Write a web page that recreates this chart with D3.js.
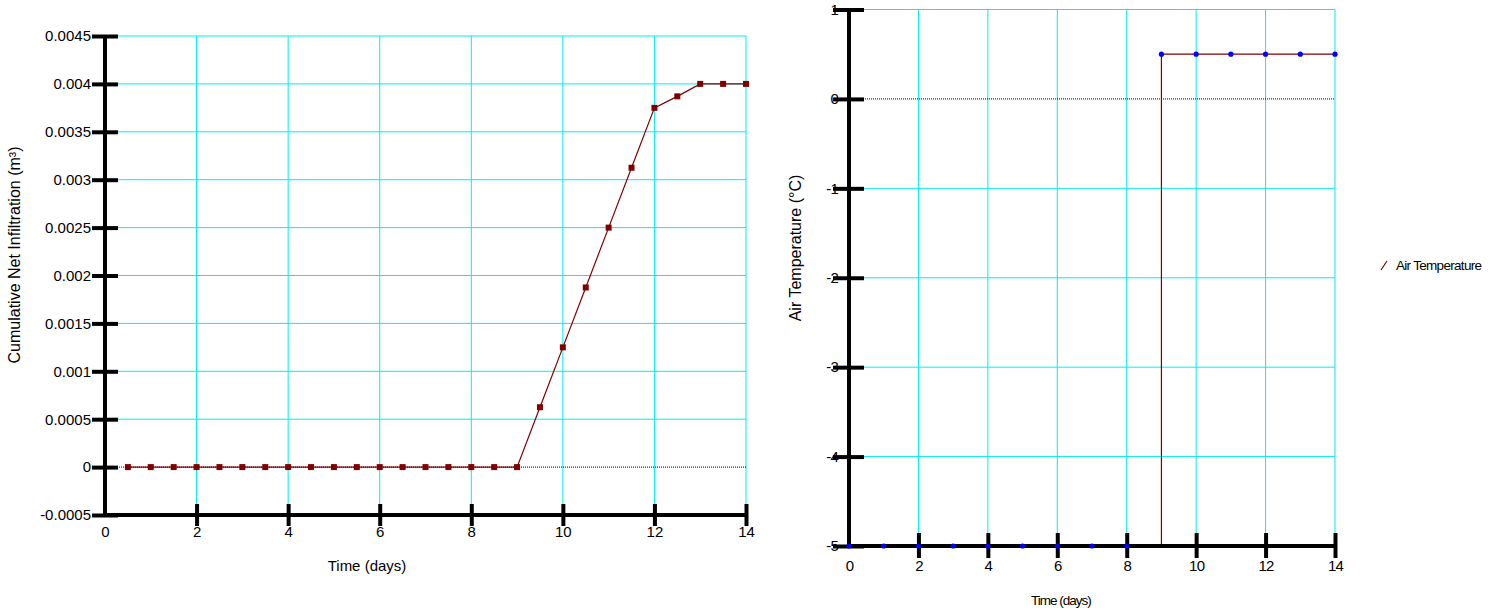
<!DOCTYPE html>
<html>
<head>
<meta charset="utf-8">
<script src="https://cdn.jsdelivr.net/npm/d3@7"></script>
<style>
  body { margin: 0; background: #fff; }
  svg { display: block; font-family: "Liberation Sans", Arial, sans-serif; }
  .grid line { stroke: #00eeee; stroke-width: 1; }
  .axis path { stroke: #000; stroke-width: 4; }
  .axis line { stroke: #000; stroke-width: 4; }
  .axis text { fill: #000; }
</style>
</head>
<body>
<svg id="chart" width="1488" height="613"></svg>
<script>

// ---- data ----
var infilTime = [0.5, 1, 1.5, 2, 2.5, 3, 3.5, 4, 4.5, 5, 5.5, 6, 6.5, 7, 7.5, 8, 8.5, 9,
                 9.5, 10, 10.5, 11, 11.5, 12, 12.5, 13, 13.5, 14];
var infilValues = [0, 0, 0, 0, 0, 0, 0, 0, 0, 0, 0, 0, 0, 0, 0, 0, 0, 0,
                   0.000625, 0.00125, 0.001875, 0.0025, 0.003125, 0.00375, 0.00387, 0.004, 0.004, 0.004];
var infilYTicks = [-0.0005, 0, 0.0005, 0.001, 0.0015, 0.002, 0.0025, 0.003, 0.0035, 0.004, 0.0045];
var timeTicks = [0, 2, 4, 6, 8, 10, 12, 14];

var airTime = [0, 1, 2, 3, 4, 5, 6, 7, 8, 9, 10, 11, 12, 13, 14];
var airValues = [-5, -5, -5, -5, -5, -5, -5, -5, -5, 0.5, 0.5, 0.5, 0.5, 0.5, 0.5];
var airYTicks = [-5, -4, -3, -2, -1, 0, 1];
var legendLabel = "Air Temperature";

var svg = d3.select("#chart");

// ==========================================
// Left chart: cumulative net infiltration
// ==========================================
var x1 = d3.scaleLinear().domain([0, 14]).range([105, 746]);
var y1 = d3.scaleLinear().domain([-0.0005, 0.0045]).range([515, 36]);

var g1 = svg.append("g");

// grid
var grid1 = g1.append("g").attr("class", "grid");
grid1.selectAll(".h").data(infilYTicks.filter(d => d > -0.0005 && d != 0)).enter()
    .append("line")
    .attr("x1", 118).attr("x2", x1(14))
    .attr("y1", d => y1(d)).attr("y2", d => y1(d));
grid1.selectAll(".v").data(timeTicks.filter(d => d > 0)).enter()
    .append("line")
    .attr("x1", d => x1(d)).attr("x2", d => x1(d))
    .attr("y1", y1(0.0045)).attr("y2", 504);

// zero line
g1.append("line")
    .attr("x1", x1(0) + 2).attr("x2", x1(14))
    .attr("y1", y1(0)).attr("y2", y1(0))
    .attr("stroke", "#000").attr("stroke-width", 1)
    .attr("stroke-dasharray", "1,1");

// y axis
var yAxis1 = g1.append("g").attr("class", "axis")
    .attr("transform", `translate(${x1(0)},0)`)
    .call(d3.axisLeft(y1).tickValues(infilYTicks).tickSize(13).tickSizeOuter(0).tickFormat(d => String(d)));
yAxis1.select(".domain").attr("d", `M0,${y1(0.0045)}V${y1(-0.0005)}`);
yAxis1.selectAll(".tick line").attr("x1", -13).attr("x2", 13);
yAxis1.selectAll(".tick text").attr("x", -14).style("font-size", "15px");

// x axis
var xAxis1 = g1.append("g").attr("class", "axis")
    .attr("transform", `translate(0,${y1(-0.0005)})`)
    .call(d3.axisBottom(x1).tickValues(timeTicks).tickSize(11).tickSizeOuter(0).tickFormat(d => String(d)));
xAxis1.select(".domain").attr("d", `M${x1(0) - 2},0H${x1(14)}`);
xAxis1.selectAll(".tick line").attr("y1", -11).attr("y2", 11)
    .style("display", d => d == 0 ? "none" : null);
xAxis1.selectAll(".tick text").attr("y", 11).style("font-size", "15px");

// series
var line1 = d3.line().x((d, i) => x1(infilTime[i])).y(d => y1(d));
g1.append("path")
    .datum(infilValues)
    .attr("d", line1)
    .attr("fill", "none")
    .attr("stroke", "#800000")
    .attr("stroke-width", 1.2);
g1.selectAll(".mk").data(infilValues).enter()
    .append("rect")
    .attr("x", (d, i) => x1(infilTime[i]) - 3)
    .attr("y", d => y1(d) - 3)
    .attr("width", 6).attr("height", 6)
    .attr("fill", "#800000");

// titles
g1.append("text")
    .attr("transform", `translate(20,${255}) rotate(-90)`)
    .attr("text-anchor", "middle")
    .style("font-size", "16px")
    .text("Cumulative Net Infiltration (m³)");
g1.append("text")
    .attr("x", 367).attr("y", 571)
    .attr("text-anchor", "middle")
    .style("font-size", "15px")
    .text("Time (days)");

// ==========================================
// Right chart: air temperature
// ==========================================
var x2 = d3.scaleLinear().domain([0, 14]).range([849, 1335]);
var y2 = d3.scaleLinear().domain([-5, 1]).range([546, 9.5]);

var g2 = svg.append("g");

var grid2 = g2.append("g").attr("class", "grid");
grid2.selectAll(".h").data(airYTicks.filter(d => d > -5 && d != 0)).enter()
    .append("line")
    .attr("x1", 864).attr("x2", x2(14))
    .attr("y1", d => y2(d)).attr("y2", d => y2(d));
grid2.selectAll(".v").data(timeTicks.filter(d => d > 0)).enter()
    .append("line")
    .attr("x1", d => x2(d)).attr("x2", d => x2(d))
    .attr("y1", y2(1)).attr("y2", 533);

g2.append("line")
    .attr("x1", x2(0) + 2).attr("x2", x2(14))
    .attr("y1", y2(0)).attr("y2", y2(0))
    .attr("stroke", "#000").attr("stroke-width", 1)
    .attr("stroke-dasharray", "1,1");

// series (step line, then points)
var line2 = d3.line().curve(d3.curveStepAfter)
    .x((d, i) => x2(airTime[i])).y(d => y2(d));
g2.append("path")
    .datum(airValues)
    .attr("d", line2)
    .attr("fill", "none")
    .attr("stroke", "#800000")
    .attr("stroke-width", 1.2);

var yAxis2 = g2.append("g").attr("class", "axis")
    .attr("transform", `translate(${x2(0)},0)`)
    .call(d3.axisLeft(y2).tickValues(airYTicks).tickSize(15).tickSizeOuter(0).tickFormat(d => String(d)));
yAxis2.select(".domain").attr("d", `M0,${y2(1)}V${y2(-5)}`);
yAxis2.selectAll(".tick line").attr("x1", -16).attr("x2", 15);
yAxis2.selectAll(".tick text").attr("x", -11)
    .style("font-size", "15px").style("letter-spacing", "-0.8px");

var xAxis2 = g2.append("g").attr("class", "axis")
    .attr("transform", `translate(0,${y2(-5)})`)
    .call(d3.axisBottom(x2).tickValues(timeTicks).tickSize(13).tickSizeOuter(0).tickFormat(d => String(d)));
xAxis2.select(".domain").attr("d", `M${x2(0) - 2},0H${x2(14)}`);
xAxis2.selectAll(".tick line").attr("y1", -13).attr("y2", 12)
    .style("display", d => d == 0 ? "none" : null);
xAxis2.selectAll(".tick text").attr("y", 14)
    .style("font-size", "15px").style("letter-spacing", "-0.8px");

g2.selectAll(".pt").data(airValues).enter()
    .append("circle")
    .attr("cx", (d, i) => x2(airTime[i]))
    .attr("cy", d => y2(d))
    .attr("r", 2.6)
    .attr("fill", "#0000ff");

g2.append("text")
    .attr("transform", `translate(801,${248}) rotate(-90)`)
    .attr("text-anchor", "middle")
    .style("font-size", "16px")
    .text("Air Temperature (°C)");
g2.append("text")
    .attr("x", 1061).attr("y", 605)
    .attr("text-anchor", "middle")
    .style("font-size", "13.5px").style("letter-spacing", "-1px")
    .text("Time (days)");

// legend
var lg = svg.append("g").attr("transform", "translate(1381,265)");
lg.append("line")
    .attr("x1", 0).attr("y1", 5).attr("x2", 6).attr("y2", -4)
    .attr("stroke", "#800000").attr("stroke-width", 1.2);
lg.append("text")
    .attr("x", 15).attr("y", 5)
    .style("font-size", "13.5px").style("letter-spacing", "-0.7px")
    .text(legendLabel);

</script>
</body>
</html>
